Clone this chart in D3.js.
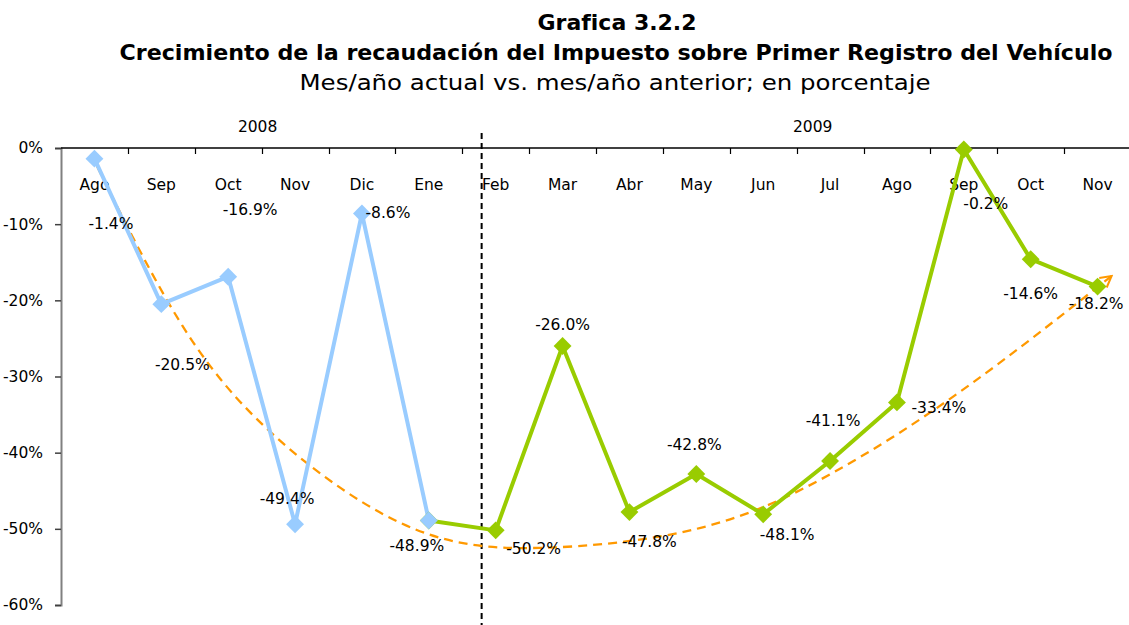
<!DOCTYPE html>
<html lang="es">
<head>
<meta charset="UTF-8">
<title>Grafica 3.2.2</title>
<style>
  body { margin: 0; background: #fff; }
  svg { display: block; font-family: "DejaVu Sans", sans-serif; }
  .title { font-weight: bold; font-size: 22px; text-anchor: middle; fill: #000; }
  .subtitle { font-size: 22px; text-anchor: middle; fill: #000; }
  .cat, .year, .lbl { font-size: 15.5px; text-anchor: middle; fill: #000; }
</style>
</head>
<body>
<div id="chart"></div>
<script src="https://cdn.jsdelivr.net/npm/d3@7"></script>
<script>
  // months shown on the top axis (Ago 2008 .. Nov 2009)
  var months = ["Ago", "Sep", "Oct", "Nov", "Dic", "Ene", "Feb", "Mar", "Abr", "May", "Jun", "Jul", "Ago", "Sep", "Oct", "Nov"];
  // 2008 series (blue): Ago .. Ene
  var values2008 = [-1.4, -20.5, -16.9, -49.4, -8.6, -48.9];
  // 2009 series (green): Ene .. Nov
  var values2009 = [-48.9, -50.2, -26.0, -47.8, -42.8, -48.1, -41.1, -33.4, -0.2, -14.6, -18.2];
  var start2009 = 5;
  var yTicks = [0, -10, -20, -30, -40, -50, -60];
  var years = ["2008", "2009"];
  var yearAt = [2.44, 10.74];
  var dividerAt = 5.79;
  // hand-drawn trend arrow, [month index, percent]
  var trendIdx = [0.04, 1.08, 2.43, 4.57, 6.66, 9.05, 11.04, 13.04, 15.21];
  var trendVal = [-2.4, -19.9, -35.6, -49.2, -52.5, -49.9, -42.65, -31.4, -16.8];
  // data label nudges (px) as placed in the original
  var labelDx = [16.5, 21, 22, -8, 26, -12, 38, 0, 20, -2, 24, 3, 42, 22, 0, -1.5];
  var labelDy = [64.5, 60, -67, -26, -1.5, 24.5, 18, -22, 29, -30, 20.5, -40.5, 5.5, 54, 34, 17];

  var width = 1129, height = 625;
  var plotLeft = 61, plotRight = 1131, plotTop = 148, plotBottom = 605;

  var svg = d3.select("#chart").append("svg")
      .attr("width", width)
      .attr("height", height);

  // titles
  svg.append("text").attr("class", "title").attr("x", 617).attr("y", 30).text("Grafica 3.2.2");
  svg.append("text").attr("class", "title").attr("x", 616).attr("y", 60)
      .attr("textLength", 993).attr("lengthAdjust", "spacingAndGlyphs")
      .text("Crecimiento de la recaudación del Impuesto sobre Primer Registro del Vehículo");
  svg.append("text").attr("class", "subtitle").attr("x", 615).attr("y", 90)
      .attr("textLength", 631).attr("lengthAdjust", "spacingAndGlyphs")
      .text("Mes/año actual vs. mes/año anterior; en porcentaje");

  var x = d3.scalePoint()
      .domain(d3.range(months.length))
      .range([plotLeft, plotRight])
      .padding(0.5);
  var step = x.step();
  var xi = function(i) { return x(0) + i * step; };

  var y = d3.scaleLinear()
      .domain([-60, 0])
      .range([plotBottom, plotTop]);

  // y axis
  var yAxis = svg.append("g")
      .attr("transform", "translate(" + plotLeft + ",0)")
      .call(d3.axisLeft(y).tickValues(yTicks).tickSize(6).tickPadding(12).tickFormat(function(d) { return d + "%"; }));
  yAxis.select(".domain").attr("stroke", "#808080").attr("stroke-width", 2);
  yAxis.selectAll(".tick line").attr("stroke", "#404040").attr("stroke-width", 1.5);
  yAxis.selectAll(".tick text")
      .attr("font-family", "DejaVu Sans, sans-serif")
      .attr("font-size", "15.5px")
      .attr("fill", "#000");

  // top category axis
  svg.append("line")
      .attr("x1", plotLeft).attr("x2", width)
      .attr("y1", y(0)).attr("y2", y(0))
      .attr("stroke", "#000").attr("stroke-width", 1.5);

  svg.selectAll(".xtick")
      .data(d3.range(1, months.length))
    .enter().append("line")
      .attr("class", "xtick")
      .attr("x1", function(d) { return Math.round(x(d) - step / 2) + 0.5; })
      .attr("x2", function(d) { return Math.round(x(d) - step / 2) + 0.5; })
      .attr("y1", y(0)).attr("y2", y(0) + 6)
      .attr("stroke", "#000").attr("stroke-width", 1.2);

  svg.selectAll(".cat")
      .data(months)
    .enter().append("text")
      .attr("class", "cat")
      .attr("x", function(d, i) { return x(i); })
      .attr("y", 190)
      .text(function(d) { return d; });

  svg.selectAll(".year")
      .data(years)
    .enter().append("text")
      .attr("class", "year")
      .attr("x", function(d, i) { return xi(yearAt[i]); })
      .attr("y", 132)
      .text(function(d) { return d; });

  // year divider
  svg.append("line")
      .attr("x1", xi(dividerAt)).attr("x2", xi(dividerAt))
      .attr("y1", 133).attr("y2", height)
      .attr("stroke", "#000").attr("stroke-width", 2)
      .attr("stroke-dasharray", "6,4");

  // trend arrow
  svg.append("defs").append("marker")
      .attr("id", "chev")
      .attr("viewBox", "-12 -8 14 16")
      .attr("markerWidth", 14).attr("markerHeight", 16)
      .attr("markerUnits", "userSpaceOnUse")
      .attr("refX", 0).attr("refY", 0)
      .attr("orient", "auto")
    .append("path")
      .attr("d", "M-11,-6L0,0L-11,6")
      .attr("fill", "none")
      .attr("stroke", "#FF9900")
      .attr("stroke-width", 2);

  var trendLine = d3.line()
      .x(function(d) { return xi(d[0]); })
      .y(function(d) { return y(d[1]); })
      .curve(d3.curveNatural);

  svg.append("path")
      .datum(d3.zip(trendIdx, trendVal))
      .attr("d", trendLine)
      .attr("fill", "none")
      .attr("stroke", "#FF9900")
      .attr("stroke-width", 2.3)
      .attr("stroke-dasharray", "9,6")
      .attr("marker-end", "url(#chev)");

  var line = d3.line()
      .x(function(d) { return x(d.i); })
      .y(function(d) { return y(d.v); });

  var series = [
    { color: "#99CCFF", pts: values2008.map(function(v, k) { return { i: k, v: v }; }) },
    { color: "#99CC00", pts: values2009.map(function(v, k) { return { i: start2009 + k, v: v }; }) }
  ];

  // green first so the blue Ene marker sits on top where they meet
  series.slice().reverse().forEach(function(s) {
    svg.append("path")
        .datum(s.pts)
        .attr("d", line)
        .attr("fill", "none")
        .attr("stroke", s.color)
        .attr("stroke-width", 4)
        .attr("stroke-linejoin", "round");
  });
  series.slice().reverse().forEach(function(s) {
    svg.selectAll(null)
        .data(s.pts)
      .enter().append("path")
        .attr("d", d3.symbol().type(d3.symbolSquare).size(160))
        .attr("transform", function(d) { return "translate(" + x(d.i) + "," + y(d.v) + ") rotate(45)"; })
        .attr("fill", s.color);
  });

  // data labels, one per month
  var labelPts = series[0].pts.concat(series[1].pts.slice(1));
  svg.selectAll(".lbl")
      .data(labelPts)
    .enter().append("text")
      .attr("class", "lbl")
      .attr("x", function(d) { return x(d.i) + labelDx[d.i]; })
      .attr("y", function(d) { return y(d.v) + labelDy[d.i]; })
      .attr("dy", "0.36em")
      .text(function(d) { return d.v.toFixed(1) + "%"; });
</script>
</body>
</html>
